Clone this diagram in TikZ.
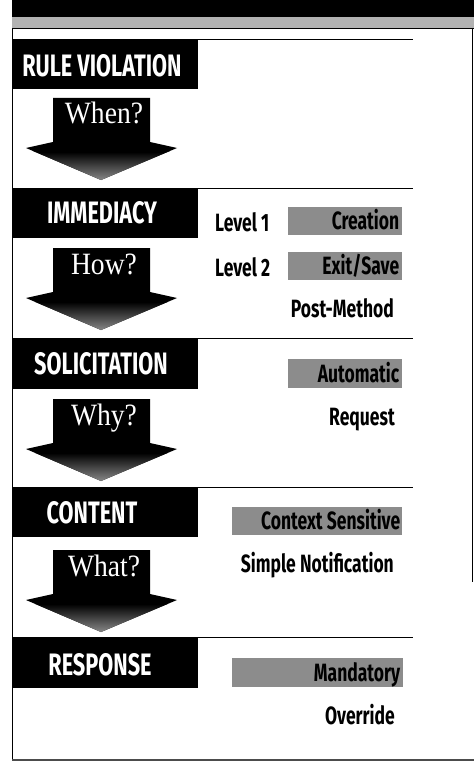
\documentclass[tikz,border=0pt]{standalone}
\usepackage{fontspec}
\setmainfont{Liberation Serif}
\newfontfamily\hdrfont[FakeStretch=0.70]{Fira Sans}
\newfontfamily\lblfont[FakeStretch=0.70]{Fira Sans}
\newfontfamily\qfont[FakeStretch=0.89]{Liberation Serif}
\newcommand{\qarrow}[3]{%
  \fill[black] (53,#2) -- (150,#2) -- (150,#2+44) -- (177,#2+50) -- (101,#2+82) -- (26,#2+50) -- (53,#2+44) -- cycle;
  \begin{scope}
    \clip (150,#2+44) -- (177,#2+50) -- (101,#2+82) -- (26,#2+50) -- (53,#2+44) -- cycle;
    \shade[top color=black, bottom color=black!45] (20,#2+54) rectangle (180,#2+83);
  \end{scope}
  \node[qtext] (#1) at (104,#2+26) {#3};
}
\begin{document}
\begin{tikzpicture}[x=1pt,y=-1pt,
  hdrbox/.style={fill=black, draw=none, inner sep=0pt, minimum width=186pt, anchor=north west},
  hdrtext/.style={text=white, font=\hdrfont\bfseries\fontsize{31}{31}\selectfont, inner sep=0pt, text height=21pt, text depth=0pt},
  lbl/.style={text=black, font=\lblfont\bfseries\fontsize{25}{25}\selectfont, inner sep=0pt, text height=17pt, text depth=0pt},
  graybox/.style={fill=black!45, draw=none, inner sep=0pt, anchor=north west},
  qtext/.style={text=white, font=\qfont\fontsize{31}{31}\selectfont, anchor=base, inner sep=0pt},
  sep/.style={line width=1pt}]
\useasboundingbox (0,0) rectangle (474,762);
\fill[white] (0,0) rectangle (474,762);
% top bands
\fill[black] (12,0) rectangle (474,17);
\fill[black!30] (12,17) rectangle (474,28);
% frame
\draw[line width=1.2pt] (12,28.5) -- (474,28.5);
\draw[line width=1.4pt] (12.7,28) -- (12.7,761);
\draw[line width=1pt] (472,28) -- (472,582);
\draw[line width=2.5pt, black!70] (12,760) -- (474,760);
% separators
\foreach \yy in {40,188,338,487,637} \draw[sep] (12,\yy) -- (413,\yy);
% header boxes
\node[hdrbox, minimum height=49pt] (rvbox) at (12,40) {};
\node[hdrtext] (rv) at (102,66) {RULE VIOLATION};
\node[hdrbox, minimum height=50pt] (imbox) at (12,188) {};
\node[hdrtext] (im) at (102,213) {IMMEDIACY};
\node[hdrbox, minimum height=51pt] (sobox) at (12,338) {};
\node[hdrtext] (so) at (101,364) {SOLICITATION};
\node[hdrbox, minimum height=50pt] (cobox) at (12,487) {};
\node[hdrtext] (co) at (92,513) {CONTENT};
\node[hdrbox, minimum height=51pt] (rebox) at (12,637) {};
\node[hdrtext] (re) at (100,665) {RESPONSE};
% question arrows
\qarrow{when}{98}{When?}
\qarrow{how}{248}{How?}
\qarrow{why}{399}{Why?}
\qarrow{what}{550}{What?}
% gray option boxes
\node[graybox, minimum width=114pt, minimum height=28pt] (crbox) at (288,207) {};
\node[lbl, anchor=east] (cr) at ([xshift=-3pt]crbox.east) {Creation};
\node[graybox, minimum width=114pt, minimum height=28pt] (exbox) at (288,252) {};
\node[lbl, anchor=east] (ex) at ([xshift=-3pt]exbox.east) {Exit/Save};
\node[graybox, minimum width=114pt, minimum height=29pt] (aubox) at (288,359) {};
\node[lbl, anchor=east] (au) at ([xshift=-3pt]aubox.east) {Automatic};
\node[graybox, minimum width=170pt, minimum height=28pt] (csbox) at (232,507) {};
\node[lbl, anchor=east] (cs) at ([xshift=-2pt]csbox.east) {Context Sensitive};
\node[graybox, minimum width=171pt, minimum height=29pt] (mabox) at (232,658) {};
\node[lbl, anchor=east] (ma) at ([xshift=-3pt]mabox.east) {Mandatory};
% plain labels
\node[lbl, anchor=west] (l1) at (215,223) {Level 1};
\node[lbl, anchor=west] (l2) at (215,268) {Level 2};
\node[lbl, anchor=east] (pm) at (394,309) {Post-Method};
\node[lbl, anchor=east] (rq) at (395,416.5) {Request};
\node[lbl, anchor=east] (sn) at (394,564) {Simple Notification};
\node[lbl, anchor=east] (ov) at (395,715.5) {Override};
\end{tikzpicture}
\end{document}
